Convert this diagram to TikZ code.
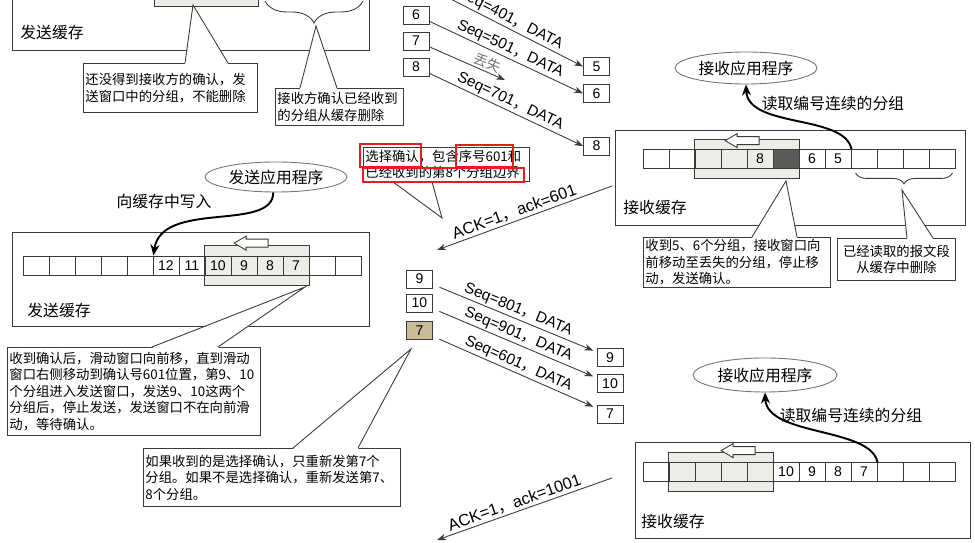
\documentclass[tikz,border=0pt]{standalone}
\usepackage{fontspec}
\setmainfont{Liberation Sans}
\newfontfamily\cjk{Noto Sans CJK SC}
\usepackage{tikz}
\usetikzlibrary{calc,fit,backgrounds,arrows.meta,shapes.geometric,decorations.pathreplacing}
\newlength{\pxl}
\setlength{\pxl}{0.02cm}
\definecolor{winfill}{HTML}{EDEDE7}
\definecolor{gapfill}{HTML}{5B5B5B}
\definecolor{tanfill}{HTML}{C8BD98}
\definecolor{inkgray}{HTML}{3A3A3A}
\definecolor{markred}{HTML}{E41E1E}
\tikzset{
  bufbox/.style  = {draw=inkgray, line width=0.5pt},
  cell/.style    = {draw=inkgray, line width=0.5pt, minimum width=26\pxl,
                    minimum height=19\pxl, inner sep=0pt,
                    font=\fontsize{8}{9}\selectfont},
  gapcell/.style = {cell, fill=gapfill},
  winbox/.style  = {draw=inkgray, fill=winfill, line width=0.5pt,
                    inner xsep=0pt, inner ysep=10\pxl},
  pkt/.style     = {cell, fill=white, minimum height=18\pxl},
  lostpkt/.style = {pkt, fill=tanfill},
  seqarr/.style  = {-{Stealth[length=1.8mm,width=1.3mm]}, draw=inkgray,
                    line width=0.5pt},
  ackarr/.style  = {{Stealth[length=1.8mm,width=1.3mm]}-, draw=inkgray,
                    line width=0.5pt},
  seqlab/.style  = {sloped, above, inner sep=1pt,
                    font=\fontsize{8.7}{10}\selectfont},
  acklab/.style  = {seqlab, font=\fontsize{9.3}{10}\selectfont},
  app/.style     = {ellipse, draw=black!55, line width=0.5pt, inner sep=0pt,
                    font=\cjk\fontsize{9}{10}\selectfont},
  apparr/.style  = {-{Stealth[length=2.2mm,width=1.8mm]}, line width=1.1pt},
  buflab/.style  = {inner sep=0pt, font=\cjk\fontsize{9}{10}\selectfont},
  note/.style    = {draw=inkgray, fill=white, line width=0.5pt, align=left,
                    anchor=north west, inner xsep=2\pxl, inner ysep=0pt,
                    font=\cjk\fontsize{7.6}{9.4}\selectfont},
  redmark/.style = {draw=markred, line width=1.2pt},
  bracel/.style  = {decorate, decoration={brace, mirror, amplitude=#1},
                    draw=inkgray, line width=0.5pt},
}
% one row of buffer cells: name, left x, centre y, list of text/style
\newcommand{\bufrow}[4]{%
  \foreach \ctext/\cstyle [count=\i] in {#4}
    \node[\cstyle] (#1c\i) at ({#2+(\i-0.5)*26}, #3) {\ctext};
}
% hollow arrow on a window, given its tip
\newcommand{\winarrow}[1]{%
  \draw[draw=inkgray, fill=white, line width=0.5pt] (#1) -- ++(12,-7)
    -- ++(0,3) -- ++(22,0) -- ++(0,8) -- ++(-22,0) -- ++(0,3) -- cycle;
}
% pointer of a callout: corner, two x offsets, tip, inward shift
\newcommand{\notetip}[5]{%
  \coordinate (ta) at ($(#1)+(#2,0)$);
  \coordinate (tb) at ($(#1)+(#3,0)$);
  \fill[white] ($(ta)+(0,#5)$) -- (#4) -- ($(tb)+(0,#5)$) -- cycle;
  \draw[draw=inkgray, line width=0.5pt] (ta) -- (#4) -- (tb);
}

\begin{document}
\begin{tikzpicture}[x=0.02cm, y=-0.02cm]
  \useasboundingbox (0,0) rectangle (975,543);
  \clip (0,0) rectangle (975,543);

  % sender buffer, first state (cut off at the top)
  \draw[bufbox] (12,-44) rectangle (369,50);
  \node[winbox, inner sep=0pt, minimum width=104\pxl, minimum height=46\pxl]
    (winA) at (206,-17) {};
  \draw[bracel=22\pxl] (265,1) -- (363,1);
  \node[buflab] (sendbufA) at (52,32) {发送缓存};
  \node[note, text width=170\pxl, minimum height=49\pxl] (noteA) at (83,63)
    {还没得到接收方的确认，发\\送窗口中的分组，不能删除};
  \notetip{noteA.north west}{102}{145}{193,5}{1}
  \node[note, text width=124\pxl, minimum height=37\pxl] (noteB) at (275,88)
    {接收方确认已经收到\\的分组从缓存删除};
  \notetip{noteB.north west}{25}{62}{316,26}{1}

  % segments 5 to 8
  \coordinate (s5) at (429,-12);
  \node[pkt] (s6) at (416,15) {6};
  \node[pkt] (s7) at (416,41) {7};
  \node[pkt] (s8) at (416,67) {8};
  \node[pkt] (r5) at (596.5,66.5) {5};
  \node[pkt] (r6) at (596.5,93.5) {6};
  \node[pkt] (r8) at (596.5,146) {8};
  \coordinate (lost) at (505,80);
  \draw[seqarr] (s5) -- (r5.west) node[seqlab, midway] {Seq=401{\cjk ，}DATA};
  \draw[seqarr] (s6) -- (r6.west) node[seqlab, midway] {Seq=501{\cjk ，}DATA};
  \draw[seqarr] (s7) -- (lost) node[seqlab, pos=0.72, text=black!55,
    font=\cjk\fontsize{8}{9}\selectfont] {丢失};
  \draw[seqarr] (s8) -- (r8.west) node[seqlab, midway] {Seq=701{\cjk ，}DATA};

  % receiver, first state
  \node[app, minimum width=142\pxl, minimum height=32\pxl] (recvappA)
    at (746,68) {接收应用程序};
  \node[buflab] (readA) at (833,103) {读取编号连续的分组};
  \draw[bufbox] (615,130) rectangle (965,225);
  \bufrow{rA}{643}{159}{/cell,/cell,/cell,/cell,8/cell,/gapcell,6/cell,5/cell,
    /cell,/cell,/cell,/cell}
  \begin{pgfonlayer}{background}
    \node[winbox, fit=(rAc3)(rAc6)] (winB) {};
  \end{pgfonlayer}
  \winarrow{$(winB.north west)+(31,2)$}
  \draw[apparr] (rAc8.north east) .. controls +(-7,-35) and +(2,44)
    .. (recvappA.south);
  \draw[bracel=11\pxl] ($(rAc9.south west)+(5,4)$) -- ($(rAc12.south east)+(-3,4)$);
  \node[buflab] (recvbufA) at (655,208) {接收缓存};
  \node[note, text width=183\pxl, minimum height=50\pxl] (noteD) at (643,237)
    {收到5、6个分组，接收窗口向\\前移动至丢失的分组，停止移\\动，发送确认。};
  \notetip{noteD.north west}{109}{154}{786,181}{1}
  \node[note, align=center, text width=114\pxl, minimum height=42\pxl] (noteE)
    at (837,238) {已经读取的报文段\\从缓存中删除};
  \notetip{noteE.north west}{70}{96}{902,190}{1}

  % selective acknowledgement
  \node[note, text width=162\pxl, minimum height=34\pxl] (noteC) at (363,147)
    {选择确认，包含序号601和\\已经收到的第8个分组边界};
  \notetip{noteC.south west}{30}{69}{442,218}{-1}
  \draw[redmark] (360,144) rectangle (421,167);
  \draw[redmark] (456,145) rectangle (513,167);
  \draw[redmark] (363,168) rectangle (524,182);
  \coordinate (ackAfrom) at (612,186);
  \coordinate (ackAto) at (437,250);
  \draw[ackarr] (ackAto) -- (ackAfrom) node[acklab, pos=0.46]
    {ACK=1{\cjk ，}ack=601};

  % sender, second state
  \node[app, minimum width=142\pxl, minimum height=30\pxl] (sendapp)
    at (276,177) {发送应用程序};
  \node[buflab] (writeB) at (164,202) {向缓存中写入};
  \draw[bufbox] (12,232) rectangle (369,326);
  \bufrow{sB}{23}{265.5}{/cell,/cell,/cell,/cell,/cell,12/cell,11/cell,10/cell,
    9/cell,8/cell,7/cell,/cell,/cell}
  \begin{pgfonlayer}{background}
    \node[winbox, fit=(sBc8)(sBc11)] (winC) {};
  \end{pgfonlayer}
  \winarrow{$(winC.north west)+(30,-2)$}
  \draw[apparr] (sendapp.-100) .. controls +(0,40) and +(8,-56) .. (sBc5.north east);
  \node[buflab] (sendbufB) at (59,310) {发送缓存};
  \node[note, text width=249\pxl, minimum height=88\pxl] (noteF) at (7,347)
    {收到确认后，滑动窗口向前移，直到滑动\\窗口右侧移动到确认号601位置，第9、10\\
     个分组进入发送窗口，发送9、10这两个\\分组后，停止发送，发送窗口不在向前滑\\
     动，等待确认。};
  \notetip{noteF.north west}{145}{211}{305,287}{1}

  % segments 9, 10 and 7 again
  \node[pkt] (s9) at (419.5,279) {9};
  \node[pkt] (s10) at (419.5,303) {10};
  \node[lostpkt] (s7b) at (419.5,330.5) {7};
  \node[pkt] (r9) at (610,357.5) {9};
  \node[pkt] (r10) at (610,383.5) {10};
  \node[pkt] (r7) at (610,414) {7};
  \draw[seqarr, shorten <=4pt, shorten >=2pt] (s9) -- (r9)
    node[seqlab, midway] {Seq=801{\cjk ，}DATA};
  \draw[seqarr, shorten <=4pt, shorten >=2pt] (s10) -- (r10)
    node[seqlab, midway] {Seq=901{\cjk ，}DATA};
  \draw[seqarr, shorten <=4pt, shorten >=2pt] (s7b) -- (r7)
    node[seqlab, midway] {Seq=601{\cjk ，}DATA};
  \node[note, text width=253\pxl, minimum height=58\pxl] (noteG) at (143,448)
    {如果收到的是选择确认，只重新发第7个\\分组。如果不是选择确认，重新发送第7、\\8个分组。};
  \notetip{noteG.north west}{150}{215}{411,349}{1}
  \coordinate (ackBfrom) at (612,478);
  \coordinate (ackBto) at (437,540);
  \draw[ackarr] (ackBto) -- (ackBfrom) node[acklab, pos=0.46]
    {ACK=1{\cjk ，}ack=1001};

  % receiver, second state
  \node[app, minimum width=144\pxl, minimum height=34\pxl] (recvappB)
    at (765,375) {接收应用程序};
  \node[buflab] (readB) at (851,415) {读取编号连续的分组};
  \draw[bufbox] (635,442) rectangle (970,538);
  \bufrow{rB}{643}{472}{/cell,/cell,/cell,/cell,/cell,10/cell,9/cell,8/cell,
    7/cell,/cell,/cell,/cell}
  \begin{pgfonlayer}{background}
    \node[winbox, fit=(rBc2)(rBc5)] (winD) {};
  \end{pgfonlayer}
  \winarrow{$(winD.north west)+(53,-1)$}
  \draw[apparr] (rBc9.north east) .. controls +(-7,-35) and +(2,44)
    .. (recvappB.south);
  \node[buflab] (recvbufB) at (673,522) {接收缓存};
\end{tikzpicture}
\end{document}
